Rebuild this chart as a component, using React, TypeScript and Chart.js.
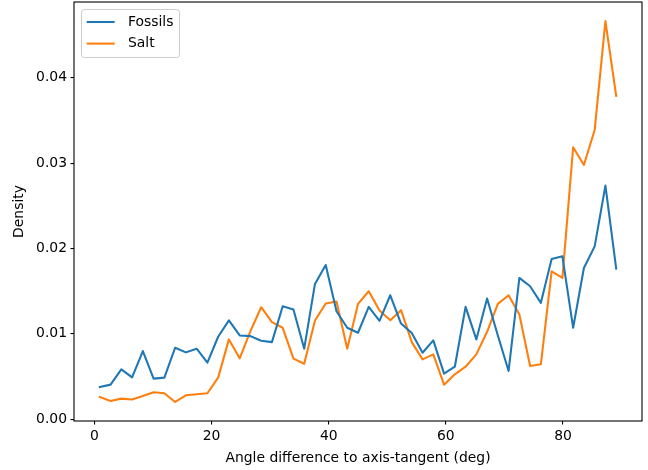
import React, { useEffect, useRef } from "react";
import { Chart, registerables } from "chart.js";

Chart.register(...registerables);

// Bin centres (deg) of 49 bins spanning 0..90
const angles = [
  0.918, 2.755, 4.592, 6.429, 8.265, 10.102, 11.939, 13.776, 15.612, 17.449,
  19.286, 21.122, 22.959, 24.796, 26.633, 28.469, 30.306, 32.143, 33.98, 35.816,
  37.653, 39.49, 41.327, 43.163, 45.0, 46.837, 48.673, 50.51, 52.347, 54.184,
  56.02, 57.857, 59.694, 61.531, 63.367, 65.204, 67.041, 68.878, 70.714, 72.551,
  74.388, 76.224, 78.061, 79.898, 81.735, 83.571, 85.408, 87.245, 89.082,
];

const fossils = [
  0.00377, 0.00405, 0.00584, 0.0049, 0.00798, 0.00475, 0.00487, 0.00837, 0.00783, 0.00826,
  0.00662, 0.00966, 0.01157, 0.00981, 0.00973, 0.00919, 0.00903, 0.01324, 0.01285, 0.00826,
  0.01585, 0.01807, 0.01265, 0.01071, 0.01013, 0.01316, 0.01153, 0.01452, 0.01121, 0.0101,
  0.00779, 0.00923, 0.00534, 0.00615, 0.01316, 0.00935, 0.01414, 0.0098, 0.00565, 0.01655,
  0.01558, 0.01363, 0.01877, 0.01908, 0.01071, 0.01772, 0.02025, 0.02737, 0.01764,
];

const salt = [
  0.0026, 0.00214, 0.00241, 0.0023, 0.00272, 0.00315, 0.00304, 0.00202, 0.0028, 0.00292,
  0.00304, 0.00487, 0.00935, 0.00713, 0.01032, 0.01312, 0.01137, 0.01071, 0.00709, 0.0065,
  0.01157, 0.01355, 0.01379, 0.00826, 0.01351, 0.01499, 0.01273, 0.0116, 0.01277, 0.00903,
  0.00701, 0.00759, 0.00404, 0.00526, 0.00615, 0.00759, 0.01024, 0.01351, 0.01452, 0.01227,
  0.00623, 0.00643, 0.01733, 0.01655, 0.03186, 0.02979, 0.03388, 0.04665, 0.03789,
];

const seriesLabels = ["Fossils", "Salt"];
const seriesColors = ["#1f77b4", "#ff7f0e"];
const xTicks = [0, 20, 40, 60, 80];
const yTicks = [0, 0.01, 0.02, 0.03, 0.04];
const xTitle = "Angle difference to axis-tangent (deg)";
const yTitle = "Density";

const FONT = "'DejaVu Sans', sans-serif";
const FS = 13.9;

const framePlugin = {
  id: "frameAndLegend",
  afterDatasetsDraw(chart: any) {
    const { ctx, chartArea } = chart;
    ctx.save();
    ctx.strokeStyle = "#000";
    ctx.lineWidth = 1.1;
    ctx.strokeRect(chartArea.left, chartArea.top, chartArea.right - chartArea.left, chartArea.bottom - chartArea.top);

    // legend (upper left, inside the axes)
    const bx = chartArea.left + 7.5;
    const by = chartArea.top + 7.5;
    const bw = 98;
    const bh = 48;
    ctx.beginPath();
    (ctx as any).roundRect(bx, by, bw, bh, 2.8);
    ctx.fillStyle = "rgba(255,255,255,0.8)";
    ctx.fill();
    ctx.strokeStyle = "#cccccc";
    ctx.lineWidth = 1;
    ctx.stroke();
    ctx.font = `${FS}px ${FONT}`;
    ctx.textBaseline = "middle";
    ctx.textAlign = "left";
    chart.data.datasets.forEach((ds: any, i: number) => {
      const cy = by + 12.5 + i * 21.6;
      ctx.beginPath();
      ctx.moveTo(bx + 5.2, cy);
      ctx.lineTo(bx + 33.2, cy);
      ctx.strokeStyle = ds.borderColor;
      ctx.lineWidth = 2.08;
      ctx.lineCap = "butt";
      ctx.stroke();
      ctx.fillStyle = "#000";
      ctx.fillText(ds.label, bx + 46.5, cy);
    });
    ctx.restore();
  },
};

function range(vals: number[]) {
  const mn = Math.min(...vals);
  const mx = Math.max(...vals);
  const m = (mx - mn) * 0.05;
  return [mn - m, mx + m];
}

function zeroPad(s: any) {
  s.paddingTop = 0;
  s.paddingBottom = 0;
  s.paddingLeft = 0;
  s.paddingRight = 0;
}

export default function App() {
  const ref = useRef<HTMLCanvasElement | null>(null);
  useEffect(() => {
    if (!ref.current) return;
    const [xmin, xmax] = range(angles);
    const [ymin, ymax] = range([...fossils, ...salt]);
    const series = [fossils, salt];
    const chart = new Chart(ref.current, {
      type: "line",
      data: {
        datasets: series.map((vals, si) => ({
          label: seriesLabels[si],
          data: vals.map((v, i) => ({ x: angles[i], y: v })),
          borderColor: seriesColors[si],
          backgroundColor: seriesColors[si],
          borderWidth: 2.08,
          pointRadius: 0,
          tension: 0,
          fill: false,
          borderJoinStyle: "round",
          borderCapStyle: "square",
        })),
      },
      options: {
        responsive: false,
        animation: false,
        devicePixelRatio: 1,
        layout: { padding: { left: 0, top: 2, right: 6, bottom: 0 } },
        plugins: { legend: { display: false }, tooltip: { enabled: false } },
        scales: {
          x: {
            type: "linear",
            min: xmin,
            max: xmax,
            afterBuildTicks: (s: any) => {
              s.ticks = xTicks.map((v) => ({ value: v }));
            },
            afterFit: (s: any) => {
              s.height = 49;
              zeroPad(s);
            },
            grid: {
              drawOnChartArea: false,
              drawTicks: true,
              tickLength: 3.5,
              color: "#000",
              lineWidth: 1.1,
            },
            border: { display: false },
            ticks: {
              color: "#000",
              padding: 3.5,
              font: { family: FONT, size: FS },
              maxRotation: 0,
              autoSkip: false,
              callback: (v: any) => String(v),
            },
            title: {
              display: true,
              text: xTitle,
              color: "#000",
              font: { family: FONT, size: FS },
              padding: { top: 0, bottom: 3.7 },
            },
          },
          y: {
            type: "linear",
            min: ymin,
            max: ymax,
            afterBuildTicks: (s: any) => {
              s.ticks = yTicks.map((v) => ({ value: v }));
            },
            afterFit: (s: any) => {
              s.width = 74;
              zeroPad(s);
            },
            grid: {
              drawOnChartArea: false,
              drawTicks: true,
              tickLength: 3.5,
              color: "#000",
              lineWidth: 1.1,
            },
            border: { display: false },
            ticks: {
              color: "#000",
              padding: 3.5,
              font: { family: FONT, size: FS },
              autoSkip: false,
              callback: (v: any) => Number(v).toFixed(2),
            },
            title: {
              display: true,
              text: yTitle,
              color: "#000",
              font: { family: FONT, size: FS },
              padding: { top: 10.7, bottom: 0 },
            },
          },
        },
      } as any,
      plugins: [framePlugin],
    });
    return () => chart.destroy();
  }, []);

  return (
    <div style={{ position: "absolute", left: 0, top: 0, width: 648, height: 470, background: "#fff" }}>
      <canvas ref={ref} width={648} height={470} style={{ width: 648, height: 470, display: "block" }} />
    </div>
  );
}
